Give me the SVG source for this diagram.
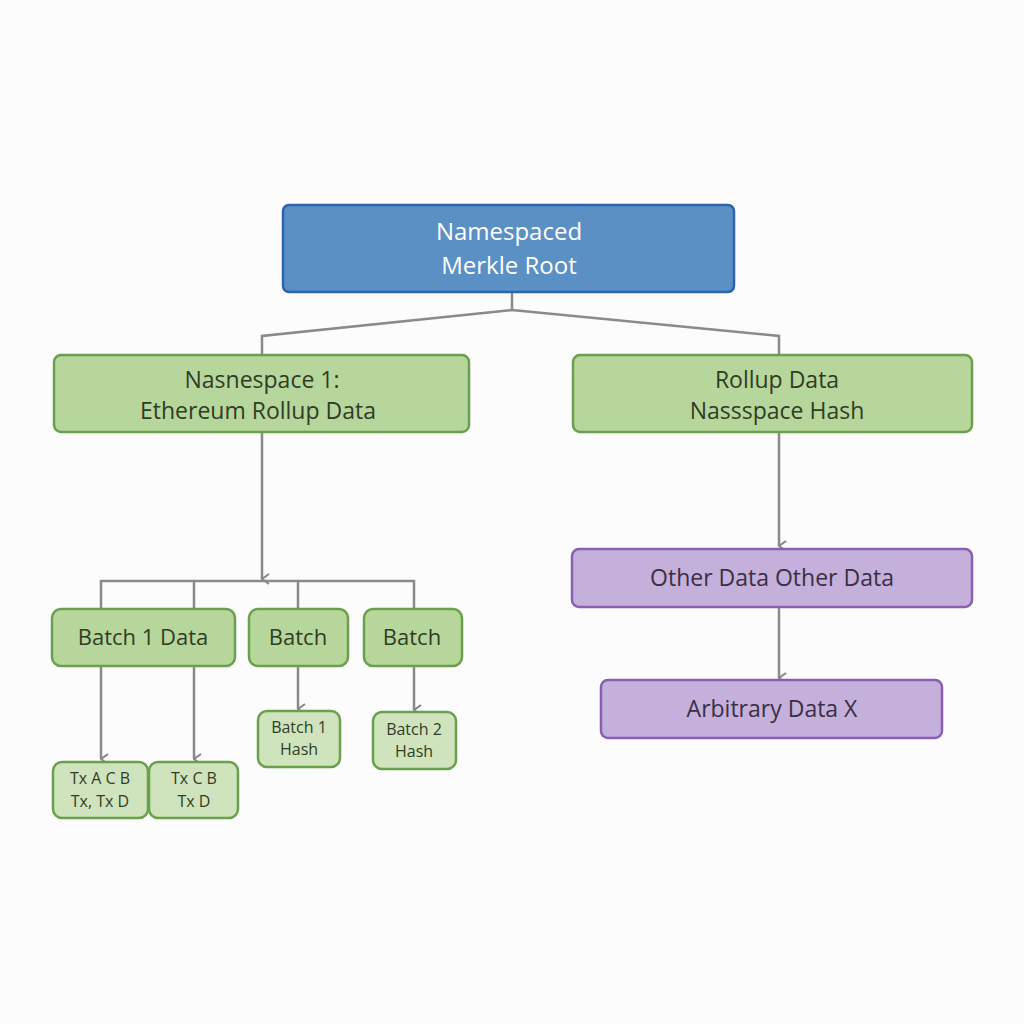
<svg xmlns="http://www.w3.org/2000/svg" width="1024" height="1024" viewBox="0 0 1024 1024">
<defs>
<marker id="arr" viewBox="0 0 12 12" refX="6" refY="11" markerWidth="12" markerHeight="12" markerUnits="userSpaceOnUse" orient="auto-start-reverse"><path d="M1,4 L6,11 L11,4" fill="none" stroke="#858585" stroke-width="2"/></marker>
</defs>
<style>
.c{fill:none;stroke:#8a8a8a;stroke-width:2.5}
.a{marker-end:url(#arr)}
.g{fill:#b7d69c;stroke:#6aa04c;stroke-width:2.5}
.gs{fill:#cfe4bc;stroke:#6aa04c;stroke-width:2.5}
.p{fill:#c4b0da;stroke:#8a5fb3;stroke-width:2.5}
.b{fill:#5b90c5;stroke:#2e64a9;stroke-width:2.5}
text{font-family:"Open Sans","Liberation Sans",sans-serif;text-anchor:middle;fill:#2f3d26}
.L{font-size:23px}
.M{font-size:22px}
.S{font-size:16px}
.w{fill:#ffffff;font-size:24px}
.pt{fill:#3a2f45}
</style>
<rect width="1024" height="1024" fill="#fbfcfb"/>
<g id="connectors">
<polyline class="c" points="262,355 262,336 512,310 779,336 779,355"/>
<line class="c" x1="512" y1="292" x2="512" y2="310"/>
<line class="c a" x1="262" y1="432" x2="262" y2="579"/>
<polyline class="c" points="101,609 101,581 414,581 414,609"/>
<line class="c" x1="194" y1="581" x2="194" y2="609"/>
<line class="c" x1="298" y1="581" x2="298" y2="609"/>
<line class="c a" x1="101" y1="666" x2="101" y2="759"/>
<line class="c a" x1="194" y1="666" x2="194" y2="759"/>
<line class="c a" x1="298" y1="666" x2="298" y2="709"/>
<line class="c a" x1="414" y1="666" x2="414" y2="710"/>
<line class="c a" x1="779" y1="432" x2="779" y2="546"/>
<line class="c a" x1="779" y1="607" x2="779" y2="678"/>
</g>
<g id="root"><rect class="b" x="283" y="205" width="451" height="87" rx="6"/><text class="w" x="509" y="240">Namespaced</text><text class="w" x="509" y="274">Merkle Root</text></g>
<g id="ns1"><rect class="g" x="54" y="355" width="415" height="77" rx="7"/><text class="L" x="262" y="388">Nasnespace 1:</text><text class="L" x="258" y="419">Ethereum Rollup Data</text></g>
<g id="ns2"><rect class="g" x="573" y="355" width="399" height="77" rx="7"/><text class="L" x="777" y="388">Rollup Data</text><text class="L" x="777" y="419">Nassspace Hash</text></g>
<g id="batch1data"><rect class="g" x="52" y="609" width="183" height="57" rx="9"/><text class="M" x="143" y="645">Batch 1 Data</text></g>
<g id="batchA"><rect class="g" x="249" y="609" width="99" height="57" rx="9"/><text class="M" x="298" y="645">Batch</text></g>
<g id="batchB"><rect class="g" x="364" y="609" width="98" height="57" rx="9"/><text class="M" x="412" y="645">Batch</text></g>
<g id="tx1"><rect class="gs" x="53" y="762" width="95" height="56" rx="9"/><text class="S" x="100" y="784">Tx A C B</text><text class="S" x="100" y="807">Tx, Tx D</text></g>
<g id="tx2"><rect class="gs" x="149" y="762" width="89" height="56" rx="9"/><text class="S" x="194" y="784">Tx C B</text><text class="S" x="194" y="807">Tx D</text></g>
<g id="hash1"><rect class="gs" x="258" y="711" width="82" height="56" rx="9"/><text class="S" x="299" y="733">Batch 1</text><text class="S" x="299" y="755">Hash</text></g>
<g id="hash2"><rect class="gs" x="373" y="712" width="83" height="57" rx="9"/><text class="S" x="414" y="735">Batch 2</text><text class="S" x="414" y="757">Hash</text></g>
<g id="other"><rect class="p" x="572" y="549" width="400" height="58" rx="7"/><text class="L pt" x="772" y="586">Other Data Other Data</text></g>
<g id="arb"><rect class="p" x="601" y="680" width="341" height="58" rx="7"/><text class="L pt" x="772" y="717">Arbitrary Data X</text></g>
</svg>
